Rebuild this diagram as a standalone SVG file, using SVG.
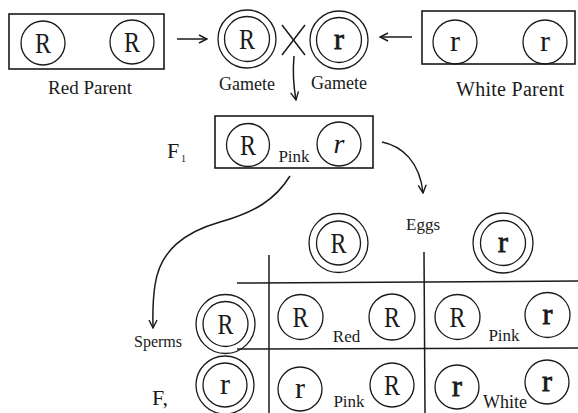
<svg xmlns="http://www.w3.org/2000/svg" width="578" height="413" viewBox="0 0 578 413">
<defs>
<style>
.c{fill:none;stroke:#1a1a1a;stroke-width:1.3}
.b{fill:none;stroke:#1a1a1a;stroke-width:1.6}
.ln{fill:none;stroke:#1a1a1a;stroke-width:1.5}
.g{font-family:"Liberation Serif","DejaVu Serif",serif;fill:#1a1a1a;text-anchor:middle}
.L{font-size:29px}
.lr{font-size:30px}
.lb{stroke:#1a1a1a;stroke-width:0.8}
.t{font-family:"Liberation Serif","DejaVu Serif",serif;fill:#1a1a1a;text-anchor:middle}
</style>
<marker id="arr" viewBox="0 0 10 10" refX="9" refY="5" markerWidth="10" markerHeight="10" markerUnits="userSpaceOnUse" orient="auto">
<path d="M1,1 L9,5 L1,9" fill="none" stroke="#1a1a1a" stroke-width="1.4"/>
</marker>
</defs>
<rect width="578" height="413" fill="#ffffff"/>

<g id="red-parent">
<rect class="b" x="9" y="14" width="155" height="55"/>
<circle class="c" cx="43" cy="43" r="22"/>
<circle class="c" cx="132" cy="42" r="22"/>
<text class="g L" x="43" y="53" textLength="16" lengthAdjust="spacingAndGlyphs">R</text>
<text class="g L" x="132" y="52" textLength="16" lengthAdjust="spacingAndGlyphs">R</text>
<text class="t" x="90" y="94" font-size="19">Red Parent</text>
</g>

<g id="gamete-R">
<circle class="c" cx="247" cy="39" r="29"/>
<circle class="c" cx="247" cy="39" r="22.5"/>
<text class="g L" x="247" y="49" textLength="16" lengthAdjust="spacingAndGlyphs">R</text>
<text class="t" x="247" y="90" font-size="18">Gamete</text>
</g>

<g id="cross">
<line class="ln" x1="282" y1="25" x2="305" y2="55"/>
<line class="ln" x1="305" y1="25" x2="282" y2="55"/>
</g>

<g id="gamete-r">
<circle class="c" cx="339" cy="40" r="29"/>
<circle class="c" cx="339" cy="40" r="22.5"/>
<text class="g lr lb" x="339" y="49">r</text>
<text class="t" x="339" y="89" font-size="18">Gamete</text>
</g>

<g id="white-parent">
<rect class="b" x="422" y="11" width="153" height="53"/>
<circle class="c" cx="455" cy="42" r="22"/>
<circle class="c" cx="545" cy="42" r="22"/>
<text class="g lr" x="455" y="51">r</text>
<text class="g lr" x="545" y="51">r</text>
<text class="t" x="510" y="96" font-size="20" textLength="108">White Parent</text>
</g>

<g id="f1-label">
<text x="167" y="158" font-family="Liberation Serif, serif" font-size="22" fill="#1a1a1a">F</text>
<text x="181" y="162" font-family="Liberation Serif, serif" font-size="10" fill="#1a1a1a">1</text>
</g>

<g id="f1">
<rect class="b" x="215" y="116" width="158" height="52"/>
<circle class="c" cx="248" cy="145" r="21.5"/>
<circle class="c" cx="339" cy="144" r="22"/>
<text class="g L" x="248" y="155" textLength="16" lengthAdjust="spacingAndGlyphs">R</text>
<text class="g" x="339" y="153" font-size="28" font-style="italic">r</text>
<text class="t" x="294" y="162" font-size="17">Pink</text>
</g>

<g id="eggs-label">
<text class="t" x="423" y="230" font-size="17">Eggs</text>
</g>

<g id="egg-R">
<circle class="c" cx="338.5" cy="243" r="29.5"/>
<circle class="c" cx="338.5" cy="243" r="22"/>
<text class="g L" x="338.5" y="253" textLength="16" lengthAdjust="spacingAndGlyphs">R</text>
</g>

<g id="egg-r">
<circle class="c" cx="503" cy="243" r="30"/>
<circle class="c" cx="503" cy="243" r="22.5"/>
<text class="g lr lb" x="503" y="252">r</text>
</g>

<g id="sperms-label">
<text class="t" x="158" y="347" font-size="16">Sperms</text>
</g>

<g id="f2-label">
<text x="152" y="405" font-family="Liberation Serif, serif" font-size="22" fill="#1a1a1a">F,</text>
</g>

<g id="sperm-R">
<circle class="c" cx="225.5" cy="324" r="29.5"/>
<circle class="c" cx="225.5" cy="324" r="22.5"/>
<text class="g L" x="225.5" y="334" textLength="16" lengthAdjust="spacingAndGlyphs">R</text>
</g>

<g id="sperm-r">
<circle class="c" cx="225" cy="385" r="29"/>
<circle class="c" cx="225" cy="385" r="22"/>
<text class="g lr" x="225" y="394">r</text>
</g>

<g id="grid">
<line class="ln" x1="237" y1="283" x2="578" y2="281"/>
<line class="ln" x1="237" y1="349" x2="578" y2="348"/>
<line class="ln" x1="269" y1="255" x2="269" y2="413"/>
<line class="ln" x1="424" y1="252" x2="425" y2="413"/>
</g>

<g id="cell-RR">
<circle class="c" cx="300.5" cy="317" r="22.5"/>
<circle class="c" cx="392" cy="317" r="23"/>
<text class="g L" x="300.5" y="327" textLength="16" lengthAdjust="spacingAndGlyphs">R</text>
<text class="g L" x="392" y="327" textLength="16" lengthAdjust="spacingAndGlyphs">R</text>
<text class="t" x="346.5" y="342" font-size="17">Red</text>
</g>

<g id="cell-Rr">
<circle class="c" cx="457.5" cy="317" r="22.5"/>
<circle class="c" cx="547.5" cy="315" r="22.5" stroke-width="1.7"/>
<text class="g L" x="457.5" y="327" textLength="16" lengthAdjust="spacingAndGlyphs">R</text>
<text class="g lr lb" x="547.5" y="324">r</text>
<text class="t" x="504" y="341" font-size="17">Pink</text>
</g>

<g id="cell-rR">
<circle class="c" cx="300" cy="389" r="22"/>
<circle class="c" cx="392" cy="385" r="22"/>
<text class="g lr" x="300" y="398">r</text>
<text class="g L" x="392" y="395" textLength="16" lengthAdjust="spacingAndGlyphs">R</text>
<text class="t" x="349" y="407" font-size="17">Pink</text>
</g>

<g id="cell-rr">
<circle class="c" cx="457" cy="387" r="22"/>
<circle class="c" cx="547" cy="382" r="22" stroke-width="1.7"/>
<text class="g lr lb" x="457" y="396">r</text>
<text class="g lr lb" x="547" y="391">r</text>
<text class="t" x="505" y="408" font-size="18">White</text>
</g>

<g id="connectors">
<line class="ln" x1="177" y1="39" x2="207" y2="39" marker-end="url(#arr)"/>
<line class="ln" x1="412" y1="37" x2="380" y2="37" marker-end="url(#arr)"/>
<path class="ln" d="M294,56 Q292,78 296,100" marker-end="url(#arr)"/>
<path class="ln" d="M382,142 C402,146 420,162 423,193" marker-end="url(#arr)"/>
<path class="ln" d="M290,176 C275,200 255,212 220,222 C185,232 160,250 155,285 C152,305 153,318 153,328" marker-end="url(#arr)"/>
</g>
</svg>
